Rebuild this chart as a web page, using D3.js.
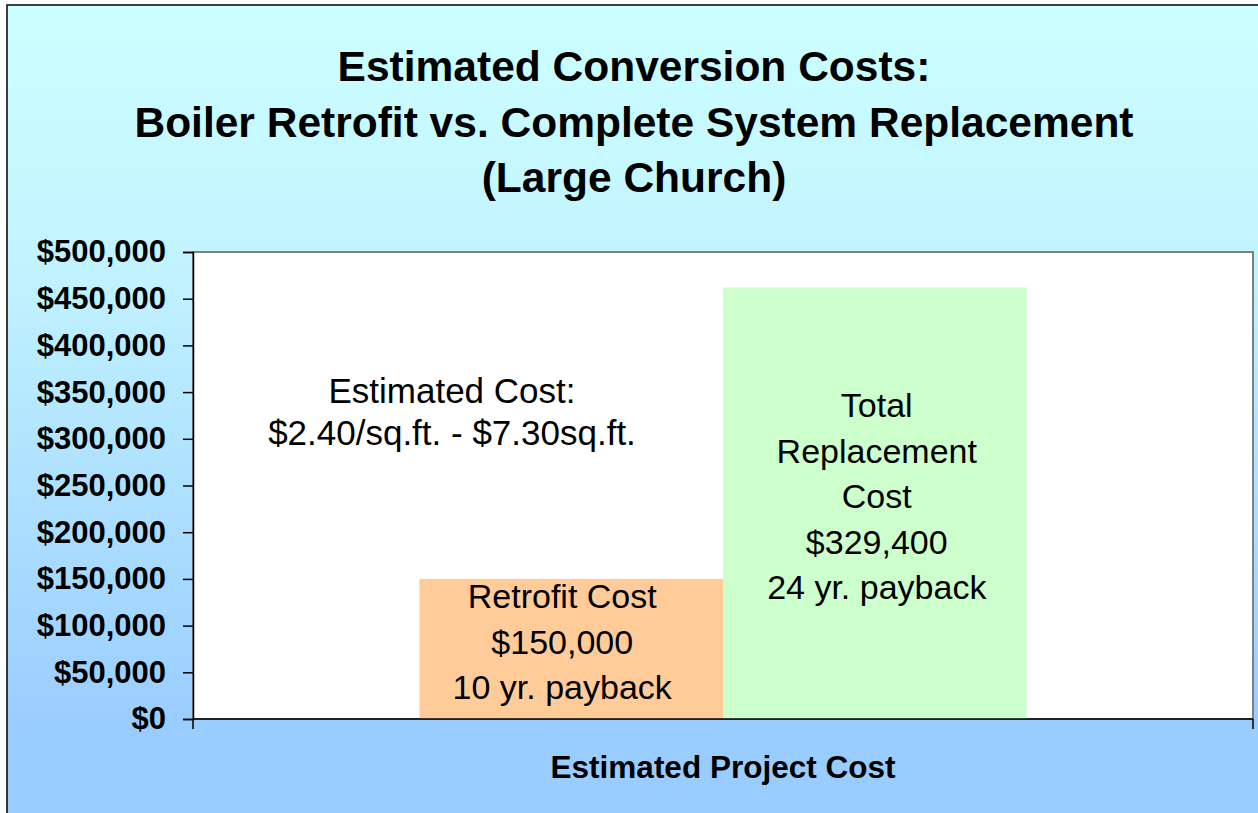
<!DOCTYPE html>
<html>
<head>
<meta charset="utf-8">
<script src="https://cdn.jsdelivr.net/npm/d3@7"></script>
<style>
  body { margin: 0; background: #fff; }
  svg { display: block; font-family: Arial, "Liberation Sans", sans-serif; }
</style>
</head>
<body>
<div id="chart"></div>
<script>
// chart values
var categories = ["Estimated Project Cost"];
var seriesNames = ["Retrofit", "Replacement"];
var seriesValues = [150000, 462000];
var seriesColors = ["#FFCC99", "#CCFFCC"];
var barLabels = [
  ["Retrofit Cost", "$150,000", "10 yr. payback"],
  ["Total", "Replacement", "Cost", "$329,400", "24 yr. payback"]
];
var tickValues = [0, 50000, 100000, 150000, 200000, 250000, 300000, 350000, 400000, 450000, 500000];
var titleLines = ["Estimated Conversion Costs:", "Boiler Retrofit vs. Complete System Replacement", "(Large Church)"];
var noteLines = ["Estimated Cost:", "$2.40/sq.ft. - $7.30sq.ft."];

var W = 1258, H = 813;
var margin = {top: 252, right: 5, bottom: 94, left: 193};
var width = W - margin.left - margin.right,
    height = H - margin.top - margin.bottom;

var svg = d3.select("#chart").append("svg")
  .attr("width", W)
  .attr("height", H);

// background gradient
var grad = svg.append("defs").append("linearGradient")
  .attr("id", "bg")
  .attr("x1", 0).attr("y1", 0).attr("x2", 0).attr("y2", 1);
grad.append("stop").attr("offset", "0%").attr("stop-color", "#CCFFFF");
grad.append("stop").attr("offset", "30%").attr("stop-color", "#C2F4FF");
grad.append("stop").attr("offset", "88%").attr("stop-color", "#99CCFF");
grad.append("stop").attr("offset", "100%").attr("stop-color", "#99CCFF");

svg.append("rect")
  .attr("x", 7).attr("y", 5)
  .attr("width", W + 20).attr("height", H + 20)
  .attr("fill", "url(#bg)")
  .attr("stroke", "#000")
  .attr("stroke-width", 1.5);

// title
svg.append("g").selectAll("text")
  .data(titleLines)
  .enter().append("text")
    .attr("x", 634)
    .attr("y", function(d, i){ return 81 + i * 55.5; })
    .attr("text-anchor", "middle")
    .style("font-size", "42.5px")
    .style("font-weight", "bold")
    .text(function(d){ return d; });

var g = svg.append("g")
  .attr("transform", "translate(" + margin.left + "," + margin.top + ")");

var y = d3.scaleLinear()
  .domain([0, 500000])
  .range([height, 0]);

var x0 = d3.scaleBand()
  .domain(categories)
  .range([0, width])
  .paddingOuter(0.373);

var x1 = d3.scaleBand()
  .domain(seriesNames)
  .range([0, x0.bandwidth()]);

// plot area
g.append("rect")
  .attr("width", width).attr("height", height)
  .attr("fill", "#fff")
  .attr("stroke", "#808080")
  .attr("stroke-width", 2);

// bars
var bars = g.append("g")
  .attr("transform", "translate(" + x0(categories[0]) + ",0)");

bars.selectAll("rect")
  .data(seriesValues)
  .enter().append("rect")
    .attr("x", function(d, i){ return x1(seriesNames[i]); })
    .attr("width", x1.bandwidth())
    .attr("y", function(d){ return y(d); })
    .attr("height", function(d){ return height - y(d); })
    .style("fill", function(d, i){ return seriesColors[i]; });

// labels inside bars
var labelDx = [-9, 2];
var lineGap = 45.5;
seriesValues.forEach(function(v, i){
  var lines = barLabels[i];
  var cx = x1(seriesNames[i]) + x1.bandwidth() / 2 + labelDx[i];
  var mid = (y(v) + height) / 2 + 5;
  bars.append("g").selectAll("text")
    .data(lines)
    .enter().append("text")
      .attr("x", cx)
      .attr("y", function(d, j){ return mid + (j - (lines.length - 1) / 2) * lineGap; })
      .attr("text-anchor", "middle")
      .style("font-size", "34px")
      .text(function(d){ return d; });
});

// note text box
g.append("g").selectAll("text")
  .data(noteLines)
  .enter().append("text")
    .attr("x", 259)
    .attr("y", function(d, i){ return 151 + i * 42; })
    .attr("text-anchor", "middle")
    .style("font-size", "35px")
    .text(function(d){ return d; });

// y axis
var yAxis = d3.axisLeft(y)
  .tickValues(tickValues)
  .tickSize(10)
  .tickPadding(17)
  .tickFormat(function(d){ return "$" + d3.format(",")(d); });

var yG = g.append("g").call(yAxis);
yG.select(".domain").attr("stroke", "#000").attr("stroke-width", 1.5);
yG.selectAll(".tick line").attr("stroke", "#000").attr("stroke-width", 1.5);
yG.selectAll(".tick text")
  .attr("fill", "#000")
  .style("font-family", "Arial, 'Liberation Sans', sans-serif")
  .style("font-size", "31px")
  .style("font-weight", "bold");

// x axis
var xG = g.append("g")
  .attr("transform", "translate(0," + height + ")");
xG.append("line")
  .attr("x1", 0).attr("x2", width)
  .attr("stroke", "#000").attr("stroke-width", 1.5);
xG.selectAll("line.edge")
  .data([0, width])
  .enter().append("line")
    .attr("class", "edge")
    .attr("x1", function(d){ return d; })
    .attr("x2", function(d){ return d; })
    .attr("y1", 0).attr("y2", 10)
    .attr("stroke", "#000").attr("stroke-width", 1.5);

xG.selectAll("text")
  .data(categories)
  .enter().append("text")
    .attr("x", function(d){ return x0(d) + x0.bandwidth() / 2; })
    .attr("y", 59)
    .attr("text-anchor", "middle")
    .style("font-size", "31.5px")
    .style("font-weight", "bold")
    .text(function(d){ return d; });
</script>
</body>
</html>
